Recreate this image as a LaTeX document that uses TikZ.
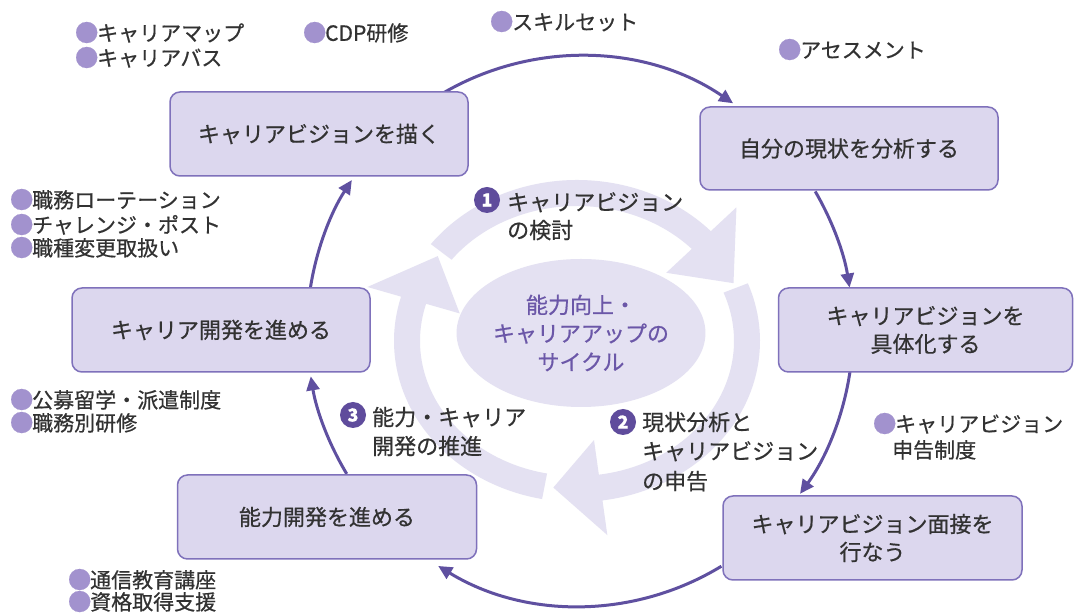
\documentclass[tikz,border=0pt]{standalone}
\usepackage{fontspec}
\setmainfont{Noto Sans CJK JP}[FakeBold=0.6]
\usetikzlibrary{arrows.meta,calc,shapes.geometric}
\definecolor{conncol}{RGB}{95,80,160}
\definecolor{boxfill}{RGB}{220,215,238}
\definecolor{boxline}{RGB}{127,113,187}
\definecolor{ringc}{RGB}{228,225,242}
\definecolor{ctext}{RGB}{107,87,168}
\definecolor{tx}{RGB}{50,50,50}
\definecolor{bul}{RGB}{162,146,206}
\definecolor{stepc}{RGB}{95,76,156}
\newcommand\ringarrow[3]{%
  \fill[ringc] (#1:183pt and 161pt) arc[start angle=#1, end angle=#2, x radius=183pt, y radius=161pt]
    -- (#2:218pt and 196pt) -- (#3:170pt and 148pt) -- (#2:122pt and 100pt)
    -- (#2:157pt and 135pt) arc[start angle=#2, end angle=#1, x radius=157pt, y radius=135pt] -- cycle;}
\newcommand\bl{\makebox[1em][c]{\textcolor{bul}{\raisebox{-0.6pt}{\fontsize{23.5}{24}\selectfont●}}}}
\begin{document}
\begin{tikzpicture}[x=1pt,y=1pt,
  stage/.style={draw=boxline, line width=1.5pt, fill=boxfill, rounded corners=10pt,
    minimum width=298pt, minimum height=84pt, inner sep=0pt, align=center, text=tx,
    font=\fontsize{22}{28}\selectfont},
  conn/.style={draw=conncol, line width=3pt, -{Triangle[length=14pt,width=13pt]}},
  ann/.style={anchor=west, inner sep=0pt, text=tx, font=\fontsize{21}{24}\selectfont,
    text height=18pt, text depth=2.3pt},
  lab/.style={anchor=west, inner sep=0pt, text=tx, font=\fontsize{22}{28}\selectfont,
    text height=19.4pt, text depth=2.6pt},
  num/.style={circle, fill=stepc, text=white, inner sep=0pt, minimum size=26pt,
    font=\fontsize{18}{18}\selectfont\bfseries},
]
\useasboundingbox (0,0) rectangle (1074,613);
\fill[white] (0,0) rectangle (1074,613);

% inner cycle ring
\begin{scope}[shift={(577,272)}]
  \ringarrow{143}{43}{23}
  \ringarrow{21}{-82}{-98}
  \ringarrow{-101}{-196}{-215}
\end{scope}
\node[ellipse, fill=ringc, minimum width=234pt, minimum height=148pt, inner sep=0pt,
  text=ctext, align=center, font=\fontsize{22}{28.5}\selectfont] (ctr) at (581,280)
  {能力向上・\\キャリアアップの\\サイクル};

% outer connectors
\coordinate (C) at (580,282);
\path (C) ++(119.9:273pt and 275pt) coordinate (c1s);
\path (C) ++(30.5:273pt and 275pt) coordinate (c2s);
\path (C) ++(-8.4:273pt and 275pt) coordinate (c3s);
\path (C) ++(-58.8:273pt and 275pt) coordinate (c4s);
\path (C) ++(211.3:273pt and 275pt) coordinate (c5s);
\path (C) ++(171:273pt and 275pt) coordinate (c6s);
\draw[conn] (c1s) arc[start angle=119.9, end angle=55.9, x radius=273pt, y radius=275pt];
\draw[conn] (c2s) arc[start angle=30.5, end angle=9.1, x radius=273pt, y radius=275pt];
\draw[conn] (c3s) arc[start angle=-8.4, end angle=-36.3, x radius=273pt, y radius=275pt];
\draw[conn] (c4s) arc[start angle=-58.8, end angle=-121.3, x radius=273pt, y radius=275pt];
\draw[conn] (c5s) arc[start angle=211.3, end angle=189.5, x radius=273pt, y radius=275pt];
\draw[conn] (c6s) arc[start angle=171, end angle=146.7, x radius=273pt, y radius=275pt];

% stage boxes
\node[stage] (b1) at (319,479) {キャリアビジョンを描く};
\node[stage, minimum height=83pt] (b2) at (849,464.5) {自分の現状を分析する};
\node[stage, minimum width=294pt] (b3) at (925.5,283) {キャリアビジョンを\\具体化する};
\node[stage, minimum width=299pt] (b4) at (872.5,75) {キャリアビジョン面接を\\行なう};
\node[stage, minimum width=299pt] (b5) at (327,96) {能力開発を進める};
\node[stage] (b6) at (221,283) {キャリア開発を進める};

% step labels
\node[num] (n1) at (487,413) {1};
\node[lab] (s1a) at (507,411) {キャリアビジョン};
\node[lab] (s1b) at (507,383) {の検討};
\node[num] (n2) at (623,191) {2};
\node[lab] (s2a) at (642,191) {現状分析と};
\node[lab] (s2b) at (642,162) {キャリアビジョン};
\node[lab] (s2c) at (642,132) {の申告};
\node[num] (n3) at (353,198) {3};
\node[lab] (s3a) at (372,196) {能力・キャリア};
\node[lab] (s3b) at (372,167) {開発の推進};

% annotations
\node[ann] (a1) at (76,580) {\bl キャリアマップ};
\node[ann] (a2) at (76,555) {\bl キャリアバス};
\node[ann] (a3) at (304,580) {\bl CDP研修};
\node[ann] (a4) at (491,591) {\bl スキルセット};
\node[ann] (a5) at (779,563) {\bl アセスメント};
\node[ann] (a6) at (11,413) {\bl 職務ローテーション};
\node[ann] (a7) at (11,388) {\bl チャレンジ・ポスト};
\node[ann] (a8) at (11,365) {\bl 職種変更取扱い};
\node[ann] (a9) at (11,213) {\bl 公募留学・派遣制度};
\node[ann] (a10) at (11,190) {\bl 職務別研修};
\node[ann] (a11) at (69,33) {\bl 通信教育講座};
\node[ann] (a12) at (69,11) {\bl 資格取得支援};
\node[ann] (a13) at (874,189) {\bl キャリアビジョン};
\node[ann] (a14) at (892,163) {申告制度};
\end{tikzpicture}
\end{document}
